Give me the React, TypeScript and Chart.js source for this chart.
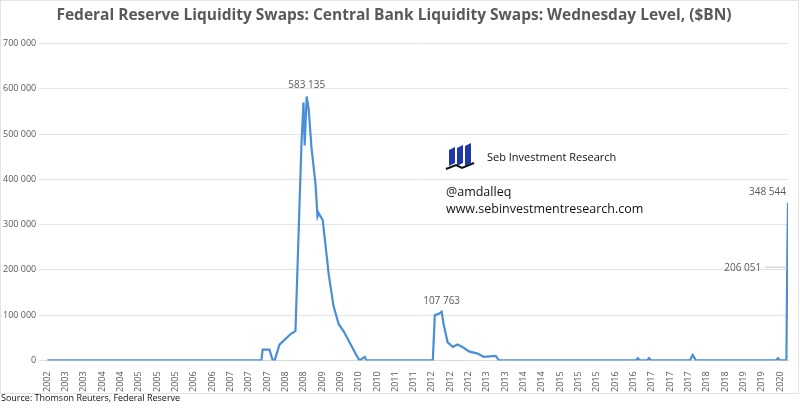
import React, { useEffect, useRef } from 'react';
import Chart from 'chart.js/auto';

// fractional positions on the date axis and swap levels ($M)
const dates = [
  2002.0, 2007.35, 2007.38, 2007.55, 2007.63, 2007.68, 2007.8, 2008.1, 2008.12, 2008.2, 2008.35,
  2008.4, 2008.43, 2008.48, 2008.53, 2008.6, 2008.7, 2008.75, 2008.78, 2008.88, 2008.95, 2009.03,
  2009.15, 2009.28, 2009.4, 2009.55, 2009.73, 2009.8, 2009.93, 2009.97, 2010.05, 2011.63, 2011.68,
  2011.78, 2011.85, 2011.9, 2012.0, 2012.13, 2012.25, 2012.4, 2012.53, 2012.75, 2012.9, 2013.2,
  2013.28, 2016.7, 2016.75, 2016.8, 2016.98, 2017.03, 2017.08, 2018.05, 2018.12, 2018.2, 2020.2,
  2020.25, 2020.3, 2020.46, 2020.48, 2020.5,
];
const swaps = [
  0, 0, 24000, 24000, 0, 0, 35000, 60000, 60000, 65000, 480000,
  570000, 475000, 583135, 555000, 470000, 390000, 318000, 325000, 310000, 255000, 190000,
  120000, 80000, 65000, 40000, 10000, 0, 8000, 0, 0, 0, 100000,
  103000, 107763, 80000, 40000, 30000, 35000, 28000, 20000, 15000, 8000, 10000,
  0, 0, 5000, 0, 0, 5000, 0, 0, 12000, 0, 0,
  5000, 0, 0, 206051, 348544,
];
const tickLabels = [
  '2002', '2003', '2003', '2004', '2004', '2005', '2005', '2005', '2006', '2006', '2007',
  '2007', '2007', '2008', '2008', '2009', '2009', '2010', '2010', '2011', '2011', '2012',
  '2012', '2012', '2013', '2013', '2014', '2014', '2015', '2015', '2015', '2016', '2016',
  '2017', '2017', '2017', '2018', '2018', '2019', '2019', '2020',
];
const tickStart = 2002;
const tickStep = 0.4575;

const grey = '#595959';
const fmt = (v: number) => String(Math.round(v)).replace(/\B(?=(\d{3})+(?!\d))/g, ' ');

const overlay = {
  id: 'overlay',
  afterDraw(chart: any) {
    const { ctx, scales } = chart;
    const x = scales.x, y = scales.y;
    const n = swaps.length;
    ctx.save();
    ctx.fillStyle = grey;
    ctx.font = '10px "Open Sans", sans-serif';
    ctx.textAlign = 'center';
    const lbl = (i: number, dy: number) =>
      ctx.fillText(fmt(swaps[i]), x.getPixelForValue(dates[i]), y.getPixelForValue(swaps[i]) - dy);
    lbl(13, 8);
    lbl(34, 8);
    ctx.textAlign = 'right';
    ctx.fillText(fmt(swaps[n - 1]), x.getPixelForValue(dates[n - 1]) - 2, y.getPixelForValue(swaps[n - 1]) - 8);
    const py = y.getPixelForValue(swaps[n - 2]);
    const px = x.getPixelForValue(dates[n - 2]);
    ctx.fillText(fmt(swaps[n - 2]), px - 26, py + 4);
    ctx.strokeStyle = '#c8c8c8';
    ctx.beginPath();
    ctx.moveTo(px - 22, py);
    ctx.lineTo(px, py);
    ctx.stroke();

    // watermark
    ctx.fillStyle = '#1f3aa8';
    for (let k = 0; k < 3; k++) {
      const bx = 449 + k * 8;
      ctx.beginPath();
      ctx.moveTo(bx, 150 - k * 2);
      ctx.lineTo(bx + 6, 147 - k * 2);
      ctx.lineTo(bx + 6, 163);
      ctx.lineTo(bx, 166);
      ctx.closePath();
      ctx.fill();
    }
    ctx.strokeStyle = '#111';
    ctx.lineWidth = 2;
    ctx.beginPath();
    ctx.moveTo(446, 169);
    ctx.lineTo(456, 165);
    ctx.lineTo(462, 168);
    ctx.lineTo(474, 163);
    ctx.stroke();
    ctx.fillStyle = '#111';
    ctx.textAlign = 'left';
    ctx.font = '11px "Open Sans", sans-serif';
    ctx.fillText('Seb Investment Research', 487, 161);
    ctx.font = '12.5px "Open Sans", sans-serif';
    ctx.fillText('@amdalleq', 446, 196);
    ctx.fillText('www.sebinvestmentresearch.com', 446, 213);
    ctx.font = '9px "Open Sans", sans-serif';
    ctx.fillText('Source: Thomson Reuters, Federal Reserve', 1, 401);
    ctx.strokeStyle = '#e4e4e4';
    ctx.lineWidth = 1;
    ctx.strokeRect(0.5, 0.5, 798, 393);
    ctx.restore();
  },
};

const App: React.FC = () => {
  const canvasRef = useRef<HTMLCanvasElement | null>(null);
  const chartRef = useRef<Chart | null>(null);

  useEffect(() => {
    const ctx = canvasRef.current?.getContext('2d');
    if (ctx) {
      chartRef.current = new Chart(ctx, {
        type: 'line',
        data: {
          datasets: [
            {
              data: dates.map((d, i) => ({ x: d, y: swaps[i] })),
              borderColor: '#4a8fd6',
              borderWidth: 2.2,
              pointRadius: 0,
              tension: 0,
            },
          ],
        },
        options: {
          animation: false,
          responsive: false,
          layout: { padding: { left: 0, right: 12, top: 6, bottom: 13 } },
          plugins: {
            legend: { display: false },
            tooltip: { enabled: false },
            title: {
              display: true,
              text: 'Federal Reserve Liquidity Swaps: Central Bank Liquidity Swaps: Wednesday Level, ($BN)',
              color: grey,
              font: { size: 15.5, weight: 'bold', family: '"Open Sans", sans-serif' },
              padding: { top: 0, bottom: 19 },
            },
          },
          scales: {
            x: {
              type: 'linear',
              min: 2002,
              max: 2020.5,
              afterBuildTicks: (axis: any) => {
                axis.ticks = tickLabels.map((_, i) => ({ value: tickStart + i * tickStep }));
              },
              grid: { display: false },
              border: { color: '#d9d9d9' },
              ticks: {
                autoSkip: false,
                maxRotation: 90,
                minRotation: 90,
                color: grey,
                font: { size: 9, family: '"Open Sans", sans-serif' },
                callback: (_v: any, i: number) => tickLabels[i],
              },
            },
            y: {
              min: 0,
              max: 700000,
              grid: { color: '#e3e3e3' },
              border: { display: false },
              ticks: {
                stepSize: 100000,
                color: grey,
                font: { size: 9, family: '"Open Sans", sans-serif' },
                callback: (v: any) => fmt(Number(v)),
              },
            },
          },
        },
        plugins: [overlay],
      });
    }
    return () => {
      if (chartRef.current) chartRef.current.destroy();
    };
  }, []);

  return (
    <div style={{ position: 'fixed', left: 0, top: 0, width: 800, height: 408, background: '#fff' }}>
      <canvas ref={canvasRef} width={800} height={408}></canvas>
    </div>
  );
};

export default App;
